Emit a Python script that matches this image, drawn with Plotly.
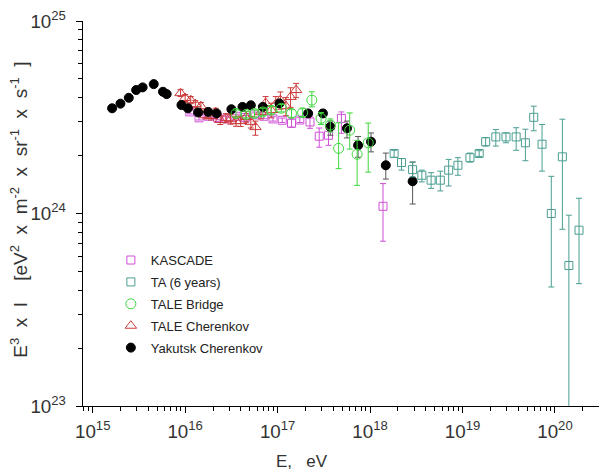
import numpy as np
import plotly.graph_objects as go

# ---------------- data (log10 E [eV], E^3 I in units of 1e24) ----------------
yak_logE = [15.21, 15.30, 15.39, 15.47, 15.54, 15.66, 15.76, 15.80, 15.96, 16.03, 16.14, 16.25, 16.34,
            16.50, 16.62, 16.71, 16.84, 17.02, 17.33, 17.49, 17.57, 17.75, 17.87, 18.01, 18.17, 18.46]
yak_val = [3.52, 3.72, 3.99, 4.38, 4.52, 4.70, 4.29, 4.17, 3.66, 3.52, 3.35, 3.37, 3.31,
           3.48, 3.58, 3.65, 3.58, 3.73, 3.31, 3.31, 2.82, 2.77, 2.26, 2.36, 1.78, 1.47]
yak_up = [0.08] * 17 + [0.10, 0.12, 0.15, 0.20, 0.25, 0.25, 0.26, 0.28, 0.38]
yak_dn = [0.08] * 17 + [0.10, 0.12, 0.15, 0.27, 0.30, 0.30, 0.27, 0.27, 0.35]

ta_logE = [18.26, 18.34, 18.46, 18.56, 18.66, 18.76, 18.85, 18.95, 19.08, 19.18, 19.25,
           19.36, 19.47, 19.58, 19.68, 19.77, 19.86, 19.96, 20.08, 20.15, 20.26]
ta_val = [2.05, 1.84, 1.69, 1.58, 1.49, 1.49, 1.68, 1.78, 1.95, 2.05, 2.36,
          2.50, 2.50, 2.50, 2.33, 3.16, 2.29, 1.00, 1.97, 0.537, 0.819]
ta_hi = [2.13, 1.93, 1.85, 1.68, 1.63, 1.66, 1.91, 1.95, 2.06, 2.12, 2.48,
         2.73, 2.62, 2.79, 2.74, 3.61, 2.90, 1.56, 3.09, 0.98, 1.20]
ta_lo = [1.96, 1.68, 1.55, 1.46, 1.35, 1.31, 1.39, 1.58, 1.85, 1.98, 2.24,
         2.24, 2.33, 2.13, 1.88, 2.69, 1.66, 0.415, 0.828, 0.001, 0.432]

tb_logE = [16.55, 16.66, 16.75, 16.84, 16.93, 17.04, 17.15, 17.27, 17.37, 17.47, 17.57, 17.66, 17.78, 17.86, 17.98]
tb_val = [3.31, 3.27, 3.31, 3.37, 3.44, 3.52, 3.31, 3.34, 3.88, 3.12, 2.88, 2.18, 2.71, 2.03, 2.33]
tb_hi = [3.45, 3.40, 3.45, 3.52, 3.60, 3.68, 3.46, 3.50, 4.29, 3.35, 3.10, 2.96, 3.33, 2.40, 2.95]
tb_lo = [3.17, 3.14, 3.17, 3.22, 3.29, 3.37, 3.16, 3.19, 3.58, 2.90, 2.65, 1.71, 2.16, 1.40, 1.64]

ka_logE = [16.05, 16.15, 16.25, 16.35, 16.45, 16.55, 16.65, 16.75, 16.85, 16.95, 17.05,
           17.15, 17.24, 17.35, 17.45, 17.55, 17.69, 18.14]
ka_val = [3.37, 3.14, 3.20, 3.15, 3.10, 3.20, 3.15, 3.25, 3.20, 3.10, 3.05,
          2.94, 3.06, 2.99, 2.52, 2.55, 3.12, 1.09]
ka_hi = [3.45, 3.22, 3.28, 3.23, 3.18, 3.28, 3.23, 3.33, 3.28, 3.18, 3.13,
         3.13, 3.15, 3.18, 2.78, 2.82, 3.37, 1.43]
ka_lo = [3.29, 3.06, 3.12, 3.07, 3.02, 3.12, 3.07, 3.17, 3.12, 3.02, 2.97,
         2.81, 2.97, 2.77, 2.21, 2.26, 2.61, 0.718]

tc_logE = [15.95, 16.00, 16.06, 16.11, 16.17, 16.22, 16.28, 16.33, 16.38, 16.44, 16.49, 16.55,
           16.60, 16.66, 16.71, 16.76, 16.82, 16.87, 16.93, 16.98, 17.03, 17.09, 17.14, 17.20]
tc_val = [4.22, 3.98, 3.88, 3.70, 3.61, 3.24, 3.21, 3.36, 3.06, 3.13, 3.09, 3.02,
          3.02, 3.17, 2.99, 2.81, 3.36, 3.75, 3.44, 3.70, 3.88, 3.61, 4.03, 4.38]
tc_hi = [4.40, 4.15, 4.05, 3.86, 3.77, 3.38, 3.36, 3.52, 3.22, 3.30, 3.27, 3.20,
         3.21, 3.38, 3.20, 3.02, 3.62, 4.05, 3.74, 4.05, 4.28, 4.00, 4.50, 4.74]
tc_lo = [4.05, 3.82, 3.72, 3.54, 3.45, 3.10, 3.06, 3.20, 2.90, 2.96, 2.91, 2.84,
         2.83, 2.96, 2.78, 2.55, 3.10, 3.45, 3.14, 3.35, 3.48, 3.22, 3.56, 4.00]

SUP = '<sup><span style="font-size:13px">{}</span></sup>'
x_title = "E,   eV"
y_title = ("E" + SUP.format("3") + "  x  I    [eV" + SUP.format("2") + "  x  m" + SUP.format("-2")
           + "  x  sr" + SUP.format("-1") + "  x  s" + SUP.format("-1") + "  ]")

SCALE = 1e24
FONT = "Liberation Sans, Arial, sans-serif"


def mk(name, logE, val, hi=None, lo=None, up=None, dn=None, symbol="circle", color="black",
       ecolor=None, size=8, rank=1, lw=1):
    x = 10 ** np.array(logE)
    y = np.array(val) * SCALE
    if hi is not None:
        plus = np.array(hi) * SCALE - y
        minus = y - np.array(lo) * SCALE
    else:
        plus = np.array(up) * SCALE
        minus = np.array(dn) * SCALE
    return go.Scatter(
        x=x, y=y, mode="markers", name=name, legendrank=rank, legendgroup=name,
        marker=dict(symbol=symbol, size=size, color=color, line=dict(color=color, width=lw)),
        error_y=dict(type="data", symmetric=False, array=plus, arrayminus=minus,
                     color=ecolor or color, thickness=1, width=3),
    )


fig = go.Figure()
fig.add_trace(mk("KASCADE", ka_logE, ka_val, ka_hi, ka_lo, symbol="square-open",
                 color="#d050d8", size=8, rank=1))
fig.add_trace(mk("TALE Cherenkov", tc_logE, tc_val, tc_hi, tc_lo, symbol="triangle-up-open",
                 color="#cc3b3b", size=10, rank=4))
fig.add_trace(mk("Yakutsk Cherenkov", yak_logE, yak_val, up=yak_up, dn=yak_dn, symbol="circle",
                 color="black", ecolor="#555555", size=9, rank=5))
fig.add_trace(mk("TALE Bridge", tb_logE, tb_val, tb_hi, tb_lo, symbol="circle-open",
                 color="#3ed83e", size=10, rank=3))
fig.add_trace(mk("TA (6 years)", ta_logE, ta_val, ta_hi, ta_lo, symbol="square-open",
                 color="#4a9e92", size=8, rank=2))

axis_common = dict(
    type="log", showgrid=False, zeroline=False, showline=True, linecolor="black", linewidth=1.2,
    ticks="outside", ticklen=6, tickwidth=1.2, tickcolor="black", dtick=1,
    exponentformat="power", showexponent="all", automargin=False,
    tickfont=dict(family=FONT, size=15, color="#333333"),
    minor=dict(ticks="outside", ticklen=3.5, tickwidth=1, tickcolor="black", dtick="D1", showgrid=False),
)

fig.update_xaxes(**axis_common, range=[14.895, 20.476], ticklabelstandoff=3)
fig.update_yaxes(**axis_common, range=[23, 25], ticklabelstandoff=7)

fig.add_annotation(text=x_title, xref="paper", yref="paper", x=0.424, y=-0.145,
                   xanchor="center", yanchor="middle", showarrow=False,
                   font=dict(family=FONT, size=17, color="#333333"))
fig.add_annotation(text=y_title, xref="paper", yref="paper", x=-0.124, y=0.51,
                   xanchor="center", yanchor="middle", showarrow=False, textangle=-90,
                   font=dict(family=FONT, size=19, color="#333333"))

fig.update_layout(
    width=599, height=475,
    margin=dict(l=83, r=0, t=21, b=69),
    plot_bgcolor="white", paper_bgcolor="white",
    showlegend=True,
    legend=dict(x=0.054, y=0.418, xanchor="left", yanchor="top", bgcolor="rgba(0,0,0,0)",
                font=dict(family=FONT, size=13, color="#222222"), tracegroupgap=2,
                traceorder="grouped"),
)

fig.write_html("out.html", config={"displayModeBar": False},
               post_script="document.body.style.margin='0px';")
